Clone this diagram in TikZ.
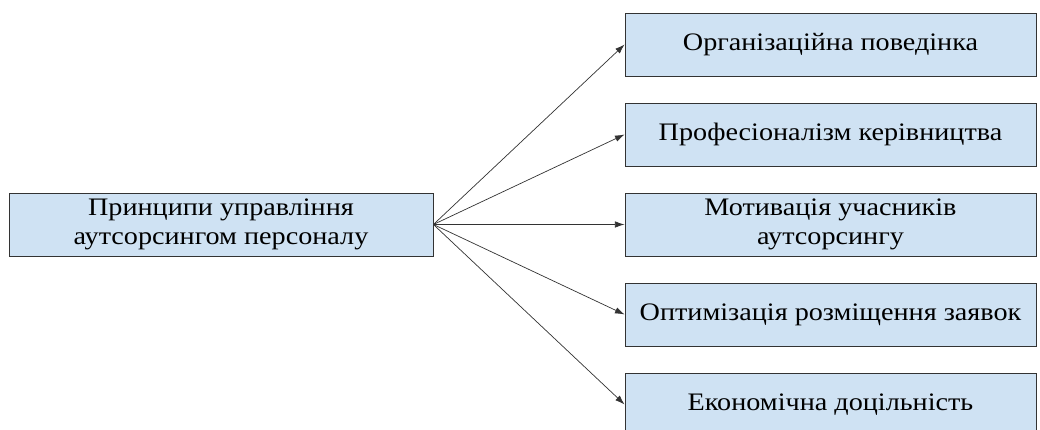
\documentclass[tikz,border=0pt]{standalone}
\usepackage{fontspec}
\setmainfont[FakeStretch=1.12]{Liberation Serif}
\usetikzlibrary{arrows.meta}
\definecolor{boxblue}{RGB}{207,226,243}
\definecolor{edgegray}{RGB}{51,51,51}

\begin{document}
\begin{tikzpicture}[every node/.style={font=\fontsize{17.9}{20.3}\selectfont},
    principle/.style={draw=edgegray,fill=boxblue,line width=0.6pt,
      minimum width=10.275cm,minimum height=1.575cm,align=center,inner sep=0pt},
    link/.style={-{Latex[length=2.4mm,width=1.6mm]},line width=0.5pt,draw=edgegray}]
        \useasboundingbox (0,0) rectangle (26,10.75);
        \node[principle,minimum width=10.6cm]
          (root) at (5.525,5.1375) {Принципи управління\\аутсорсингом персоналу};
        \node[principle]
          (p1) at (20.7625,9.6375) {Організаційна поведінка};
        \node[principle]
          (p2) at (20.7625,7.3875) {Професіоналізм керівництва};
        \node[principle]
          (p3) at (20.7625,5.1375) {Мотивація учасників\\аутсорсингу};
        \node[principle]
          (p4) at (20.7625,2.8875) {Оптимізація розміщення заявок};
        \node[principle]
          (p5) at (20.7625,0.6375) {Економічна доцільність};
        \foreach \n in {p1,p2,p3,p4,p5}
          \draw[link] (root.east) -- (\n.west);
      \end{tikzpicture}
\end{document}
